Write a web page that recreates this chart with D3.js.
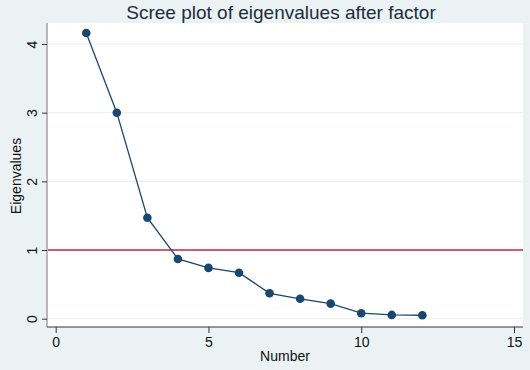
<!DOCTYPE html>
<html>
<head>
<meta charset="utf-8">
<script src="https://cdn.jsdelivr.net/npm/d3@7"></script>
<style>
  body { margin: 0; background: #eaf2f3; }
  svg { display: block; font-family: "Liberation Sans", Arial, sans-serif; }
</style>
</head>
<body>
<svg id="chart" width="530" height="370"></svg>
<script>

// data
let numbers = [1, 2, 3, 4, 5, 6, 7, 8, 9, 10, 11, 12];
let eigenvalues = [4.16, 3.00, 1.47, 0.87, 0.74, 0.67, 0.37, 0.29, 0.22, 0.08, 0.055, 0.05];
let x_ticks = [0, 5, 10, 15];
let y_ticks = [0, 1, 2, 3, 4];
let ref_line = [1];

function draw_scree( doc_id ){

    let svg = d3.select(doc_id);
    let W = 530, H = 370;
    let plot = { left: 47, right: 523, top: 23, bottom: 327 };

    svg.append("rect")
        .attr("width", W).attr("height", H)
        .attr("fill", "#eaf2f3");

    svg.append("rect")
        .attr("x", plot.left).attr("y", plot.top)
        .attr("width", plot.right - plot.left).attr("height", plot.bottom - plot.top)
        .attr("fill", "#ffffff");

    let x = d3.scaleLinear().domain([0, 15]).range([55.7, 514]);
    let y = d3.scaleLinear().domain([0, 4]).range([318.7, 44]);

    // grid lines
    svg.append("g").selectAll("line")
        .data(y_ticks)
        .enter().append("line")
        .attr("x1", plot.left).attr("x2", plot.right)
        .attr("y1", d => y(d)).attr("y2", d => y(d))
        .attr("stroke", "#eaf2f3")
        .attr("stroke-width", 1.2);

    // x axis
    let gx = svg.append("g")
        .attr("transform", "translate(0," + plot.bottom + ")")
        .call( d3.axisBottom(x).tickValues(x_ticks).tickFormat(d3.format("d")).tickSize(6).tickPadding(4) );
    gx.select(".domain").attr("stroke", "#333").attr("d", "M" + plot.left + ",0H" + plot.right);
    gx.selectAll(".tick line").attr("stroke", "#333");
    gx.selectAll(".tick text").style("font-size", "14px").attr("fill", "#111");

    // y axis, labels turned sideways like the stata default
    let gy = svg.append("g")
        .attr("transform", "translate(" + plot.left + ",0)")
        .call( d3.axisLeft(y).tickValues(y_ticks).tickFormat(d3.format("d")).tickSize(5).tickPadding(4) );
    gy.select(".domain").attr("stroke", "#777").attr("d", "M0," + plot.top + "V" + plot.bottom);
    gy.selectAll(".tick line").attr("stroke", "#333");
    gy.selectAll(".tick text")
        .style("font-size", "14px").attr("fill", "#111")
        .attr("text-anchor", "middle")
        .attr("dy", "0")
        .attr("x", 0).attr("y", 0)
        .attr("transform", "translate(-10,0) rotate(-90)");

    // reference line at 1
    svg.append("g").selectAll("line")
        .data(ref_line)
        .enter().append("line")
        .attr("x1", plot.left + 1).attr("x2", plot.right)
        .attr("y1", d => y(d)).attr("y2", d => y(d))
        .attr("stroke", "#c8254a")
        .attr("stroke-width", 1.5);

    let pts = numbers.map( (n, i) => ({ n: n, v: eigenvalues[i] }) );

    svg.append("path")
        .datum(pts)
        .attr("d", d3.line().x(d => x(d.n)).y(d => y(d.v)))
        .attr("fill", "none")
        .attr("stroke", "#1a476f")
        .attr("stroke-width", 1.3);

    svg.append("g").selectAll("circle")
        .data(pts)
        .enter().append("circle")
        .attr("cx", d => x(d.n))
        .attr("cy", d => y(d.v))
        .attr("r", 4.3)
        .attr("fill", "#1a476f");

    // titles
    svg.append("text")
        .attr("x", 281).attr("y", 19)
        .attr("text-anchor", "middle")
        .style("font-size", "19px")
        .attr("fill", "#1e2d3e")
        .text("Scree plot of eigenvalues after factor");

    svg.append("text")
        .attr("x", 285).attr("y", 361)
        .attr("text-anchor", "middle")
        .style("font-size", "14px")
        .attr("fill", "#111")
        .text("Number");

    svg.append("text")
        .attr("transform", "translate(21,176) rotate(-90)")
        .attr("text-anchor", "middle")
        .style("font-size", "14px")
        .attr("fill", "#111")
        .text("Eigenvalues");
}

draw_scree("#chart");

</script>
</body>
</html>
